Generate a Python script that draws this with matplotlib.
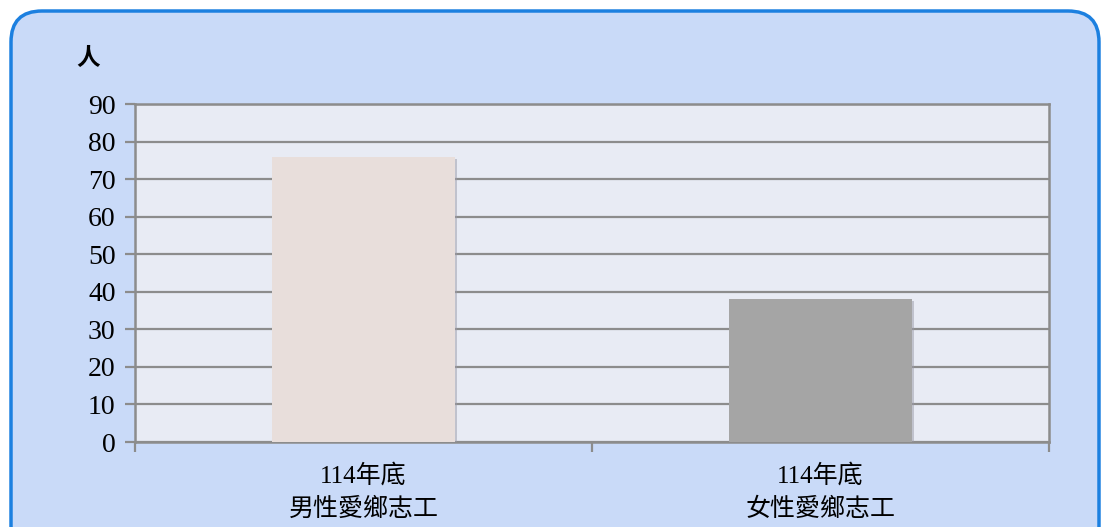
import matplotlib.pyplot as plt
from matplotlib.patches import FancyBboxPatch
import matplotlib.patheffects as pe

plt.rcParams['font.family'] = ['Liberation Serif', 'Noto Sans CJK TC', 'DejaVu Sans']

categories = ['114年底\n男性愛鄉志工', '114年底\n女性愛鄉志工']
values = [76, 38]
bar_colors = ['#E8DEDB', '#A5A5A5']
yticks = list(range(0, 100, 10))

W, H = 1106, 527
fig = plt.figure(figsize=(W / 100, H / 100), dpi=100)
fig.patch.set_facecolor('white')

# rounded panel behind the chart
panel = FancyBboxPatch((11 / W, -30 / H), 1088 / W, (H - 11 + 30) / H,
                       boxstyle='round,pad=0,rounding_size=0.028',
                       transform=fig.transFigure, facecolor='#C9DAF8',
                       edgecolor='#1C80E0', linewidth=2.5, zorder=-5,
                       mutation_aspect=W / H)
fig.patches.append(panel)

ax = fig.add_axes([135 / W, 1 - 442 / H, 914 / W, 338 / H])
ax.set_zorder(2)
ax.set_facecolor('#E8EBF4')

x = range(len(categories))
bars = ax.bar(x, values, width=0.4, color=bar_colors, zorder=3)
for b in bars:
    b.set_path_effects([pe.SimplePatchShadow(offset=(1.5, -1.5), shadow_rgbFace='#9a9aa8', alpha=0.5),
                        pe.Normal()])

ax.set_xlim(-0.5, len(categories) - 0.5)
ax.set_ylim(0, 90)
ax.set_yticks(yticks)
ax.set_yticklabels([str(t) for t in yticks], fontsize=20)
ax.yaxis.grid(True, color='#8C8C8C', linewidth=1.6, zorder=1)
ax.set_axisbelow(True)

ax.set_xticks([-0.5, 0.5, 1.5], minor=False)
ax.set_xticklabels([])
ax.set_xticks(list(x), minor=True)
ax.set_xticklabels(categories, minor=True, fontsize=18, linespacing=1.55)
ax.tick_params(axis='x', which='minor', length=0, pad=16)
ax.tick_params(axis='x', which='major', length=7, width=1.6, color='#8C8C8C', direction='out')
ax.tick_params(axis='y', length=7, width=1.6, color='#8C8C8C', direction='out', pad=7)

for s in ax.spines.values():
    s.set_color('#8C8C8C')
    s.set_linewidth(1.8)

fig.text(88 / W, 1 - 58 / H, '人', fontsize=17, fontweight='bold',
         ha='center', va='center', family=['Noto Sans CJK TC'])

fig.savefig('out.png', dpi=100)
